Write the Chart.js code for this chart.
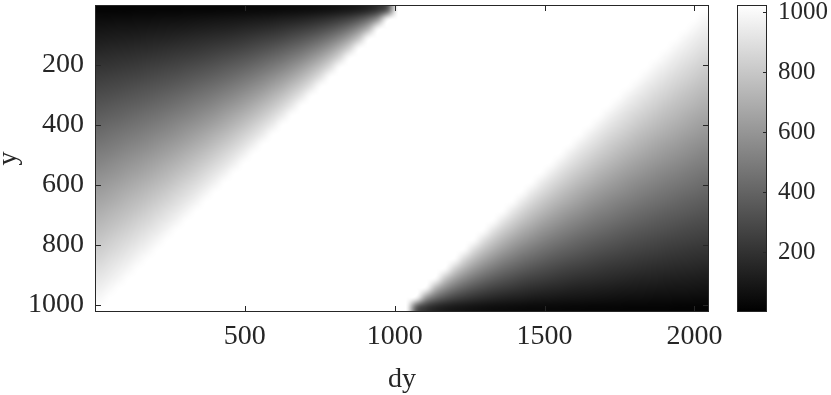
<!DOCTYPE html>
<html>
<head>
<meta charset="utf-8">
<script src="https://cdn.jsdelivr.net/npm/chart.js@4.4.1/dist/chart.umd.min.js"></script>
<style>
  html, body { margin: 0; padding: 0; background: #fff; }
  #wrap { position: relative; width: 831px; height: 395px; }
  #wrap canvas { position: absolute; left: 0; top: 0; }
</style>
</head>
<body>
<div id="wrap">
  <canvas id="map" width="831" height="395"></canvas>
  <canvas id="bar" width="831" height="395"></canvas>
</div>
<script>
// image extents (data units) and colour limits
const dyRange = [0.5, 2048.5];
const yRange = [0.5, 1024.5];
const cMin = 0;
const cMax = 1024;

const xTicks = [500, 1000, 1500, 2000];
const yTicks = [200, 400, 600, 800, 1000];
const cbTicks = [200, 400, 600, 800, 1000];

const W = 1024; // saturated (white)

// values read on a 64 x 32 grid (cell = 32 x 32), rows top to bottom.
// each row: left ramp, a run of 33 saturated cells, right ramp
const whiteRun = [
  W, W, W, W, W, W, W, W, W, W, W,
  W, W, W, W, W, W, W, W, W, W, W,
  W, W, W, W, W, W, W, W, W, W, W
];

const leftRamps = [
  [16,17,17,18,19,19,20,21,22,23,24,25,26,28,29,31,33,35,38,41,45,49,54,60,68,79,93,114,146,205,341],
  [49,50,52,54,56,58,60,63,65,68,71,75,79,83,88,93,99,106,114,123,134,146,162,181,205,236,279,341,439,614],
  [81,84,87,90,93,97,100,104,109,114,119,125,131,138,146,155,165,177,190,205,223,244,269,301,341,394,465,569,731],
  [114,118,121,126,130,135,141,146,153,159,167,175,184,194,205,217,231,247,265,287,312,341,377,422,478,551,652,796],
  [146,151,156,162,168,174,181,188,196,205,214,225,236,249,263,279,297,318,341,369,401,439,485,542,614,709,838],
  [179,185,191,198,205,213,221,230,240,250,262,275,289,304,322,341,363,388,417,451,490,536,593,663,751,866],
  [211,218,226,234,242,251,261,272,283,296,310,325,341,360,380,403,429,459,493,532,579,634,701,783,887],
  [244,252,260,269,279,290,301,313,327,341,357,375,394,415,439,465,495,530,569,614,668,731,808,904],
  [276,285,295,305,317,328,341,355,370,387,405,425,446,470,497,528,562,600,645,696,757,829,916],
  [309,319,330,341,354,367,381,397,414,432,452,475,499,526,556,590,628,671,721,778,846,926],
  [341,353,364,377,391,406,422,439,458,478,500,524,551,581,614,652,694,742,796,860,935],
  [374,386,399,413,428,444,462,481,501,523,548,574,604,637,673,714,760,812,872,942],
  [406,420,434,449,465,483,502,522,545,569,595,624,656,692,731,776,826,883,948],
  [439,453,469,485,503,522,542,564,588,614,643,674,709,747,790,838,892,953],
  [471,487,503,521,540,560,582,606,632,660,691,724,761,803,848,900,958],
  [504,520,538,557,577,599,622,648,675,705,738,774,814,858,907,962],
  [536,554,573,593,614,638,663,690,719,751,786,824,866,913,965],
  [569,588,607,629,652,676,703,731,763,796,833,874,919,969],
  [601,621,642,665,689,715,743,773,806,842,881,924,971],
  [634,655,677,701,726,754,783,815,850,887,929,974],
  [666,688,712,737,763,792,823,857,893,933,976],
  [699,722,746,772,801,831,863,899,937,979],
  [731,755,781,808,838,869,904,940,980],
  [764,789,816,844,875,908,944,982],
  [796,823,850,880,912,947,984],
  [829,856,885,916,950,985],
  [861,890,920,952,987],
  [894,923,955,988],
  [926,957,989],
  [959,990],
  [991],
  []
];

const rightRamps = [
  [],
  [991],
  [990,959],
  [989,957,926],
  [988,955,923,894],
  [987,952,920,890,861],
  [985,950,916,885,856,829],
  [984,947,912,880,850,823,796],
  [982,944,908,875,844,816,789,764],
  [980,940,904,869,838,808,781,755,731],
  [979,937,899,863,831,801,772,746,722,699],
  [976,933,893,857,823,792,763,737,712,688,666],
  [974,929,887,850,815,783,754,726,701,677,655,634],
  [971,924,881,842,806,773,743,715,689,665,642,621,601],
  [969,919,874,833,796,763,731,703,676,652,629,607,588,569],
  [965,913,866,824,786,751,719,690,663,638,614,593,573,554,536],
  [962,907,858,814,774,738,705,675,648,622,599,577,557,538,520,504],
  [958,900,848,803,761,724,691,660,632,606,582,560,540,521,503,487,471],
  [953,892,838,790,747,709,674,643,614,588,564,542,522,503,485,469,453,439],
  [948,883,826,776,731,692,656,624,595,569,545,522,502,483,465,449,434,420,406],
  [942,872,812,760,714,673,637,604,574,548,523,501,481,462,444,428,413,399,386,374],
  [935,860,796,742,694,652,614,581,551,524,500,478,458,439,422,406,391,377,364,353,341],
  [926,846,778,721,671,628,590,556,526,499,475,452,432,414,397,381,367,354,341,330,319,309],
  [916,829,757,696,645,600,562,528,497,470,446,425,405,387,370,355,341,328,317,305,295,285,276],
  [904,808,731,668,614,569,530,495,465,439,415,394,375,357,341,327,313,301,290,279,269,260,252,244],
  [887,783,701,634,579,532,493,459,429,403,380,360,341,325,310,296,283,272,261,251,242,234,226,218,211],
  [866,751,663,593,536,490,451,417,388,363,341,322,304,289,275,262,250,240,230,221,213,205,198,191,185,179],
  [838,709,614,542,485,439,401,369,341,318,297,279,263,249,236,225,214,205,196,188,181,174,168,162,156,151,146],
  [796,652,551,478,422,377,341,312,287,265,247,231,217,205,194,184,175,167,159,153,146,141,135,130,126,121,118,114],
  [731,569,465,394,341,301,269,244,223,205,190,177,165,155,146,138,131,125,119,114,109,104,100,97,93,90,87,84,81],
  [614,439,341,279,236,205,181,162,146,134,123,114,106,99,93,88,83,79,75,71,68,65,63,60,58,56,54,52,50,49],
  [341,205,146,114,93,79,68,60,54,49,45,41,38,35,33,31,29,28,26,25,24,23,22,21,20,19,19,18,17,17,16]
];

const heatRows = leftRamps.map((l, j) => [...l, ...whiteRun, ...rightRamps[j]]);

const ink = '#262626';
const serif = "'Liberation Serif', 'DejaVu Serif', serif";

function setTicks(list) {
  return function(scale) { scale.ticks = list.map(v => ({ value: v })); };
}

// fixed axis size, and no extra room for the end labels
function fixBox(w, h) {
  return function(s) {
    if (w != null) s.width = w;
    if (h != null) s.height = h;
    s.paddingTop = 0; s.paddingBottom = 0;
    s.paddingLeft = 0; s.paddingRight = 0;
  };
}

function gray(v) {
  const t = Math.min(1, Math.max(0, (v - cMin) / (cMax - cMin)));
  return Math.round(t * 255);
}

// heat map image, placed with the x / y scales
const heatLayer = {
  id: 'heatLayer',
  beforeDatasetsDraw(chart) {
    const { ctx, chartArea: a, scales: { x, y } } = chart;
    const rows = heatRows.length;
    const cols = Math.max(...heatRows.map(r => r.length));
    const off = document.createElement('canvas');
    off.width = cols;
    off.height = rows;
    const octx = off.getContext('2d');
    const pix = octx.createImageData(cols, rows);
    heatRows.forEach((row, j) => row.forEach((v, i) => {
      const k = (j * cols + i) * 4;
      const g = gray(v);
      pix.data[k] = g; pix.data[k + 1] = g; pix.data[k + 2] = g; pix.data[k + 3] = 255;
    }));
    octx.putImageData(pix, 0, 0);

    const x0 = x.getPixelForValue(dyRange[0]), x1 = x.getPixelForValue(dyRange[1]);
    const y0 = y.getPixelForValue(yRange[0]), y1 = y.getPixelForValue(yRange[1]);
    ctx.save();
    ctx.beginPath();
    ctx.rect(a.left, a.top, a.right - a.left, a.bottom - a.top);
    ctx.clip();
    ctx.imageSmoothingEnabled = true;
    ctx.imageSmoothingQuality = 'high';
    ctx.drawImage(off, x0, y0, x1 - x0, y1 - y0);
    ctx.restore();
  }
};

function drawFrame(ctx, a) {
  ctx.strokeStyle = ink;
  ctx.lineWidth = 1;
  ctx.strokeRect(Math.round(a.left) + 0.5, Math.round(a.top) + 0.5,
    Math.round(a.right - a.left) - 1, Math.round(a.bottom - a.top) - 1);
}

// matlab style box with inward ticks on all four sides
const boxTicks = {
  id: 'boxTicks',
  afterDraw(chart) {
    const { ctx, chartArea: a, scales: { x, y } } = chart;
    const len = 6;
    ctx.save();
    ctx.strokeStyle = ink;
    ctx.lineWidth = 1;
    ctx.beginPath();
    x.ticks.forEach(t => {
      const p = Math.round(x.getPixelForValue(t.value)) + 0.5;
      ctx.moveTo(p, a.bottom); ctx.lineTo(p, a.bottom - len);
      ctx.moveTo(p, a.top); ctx.lineTo(p, a.top + len);
    });
    y.ticks.forEach(t => {
      const p = Math.round(y.getPixelForValue(t.value)) + 0.5;
      ctx.moveTo(a.left, p); ctx.lineTo(a.left + len, p);
      ctx.moveTo(a.right, p); ctx.lineTo(a.right - len, p);
    });
    ctx.stroke();
    drawFrame(ctx, a);
    ctx.restore();
  }
};

const colorStrip = {
  id: 'colorStrip',
  beforeDatasetsDraw(chart) {
    const { ctx, chartArea: a, scales: { y } } = chart;
    const yLo = y.getPixelForValue(cMin), yHi = y.getPixelForValue(cMax);
    const grad = ctx.createLinearGradient(0, yLo, 0, yHi);
    grad.addColorStop(0, 'rgb(0,0,0)');
    grad.addColorStop(1, 'rgb(255,255,255)');
    ctx.save();
    ctx.fillStyle = grad;
    ctx.fillRect(a.left, a.top, a.right - a.left, a.bottom - a.top);
    ctx.restore();
  },
  afterDraw(chart) {
    const { ctx, chartArea: a, scales: { y } } = chart;
    ctx.save();
    ctx.strokeStyle = ink;
    ctx.lineWidth = 1;
    ctx.beginPath();
    y.ticks.forEach(t => {
      const p = Math.round(y.getPixelForValue(t.value)) + 0.5;
      ctx.moveTo(a.right, p); ctx.lineTo(a.right - 4, p);
    });
    ctx.stroke();
    drawFrame(ctx, a);
    ctx.restore();
  }
};

const plain = v => String(v);
const tickFont = { family: serif, size: 28, lineHeight: 1.2 };
const cbFont = { family: serif, size: 25, lineHeight: 1.2 };

new Chart(document.getElementById('map'), {
  type: 'scatter',
  data: { datasets: [{ data: [], pointRadius: 0 }] },
  options: {
    responsive: false,
    animation: false,
    events: [],
    layout: { autoPadding: false, padding: { left: 0, top: 5, right: 122, bottom: 0 } },
    plugins: { legend: { display: false }, tooltip: { enabled: false } },
    scales: {
      x: {
        type: 'linear',
        min: dyRange[0], max: dyRange[1],
        afterBuildTicks: setTicks(xTicks),
        afterFit: fixBox(null, 83),
        grid: { display: false, drawTicks: false },
        border: { display: false },
        ticks: { color: ink, font: tickFont, padding: 8, maxRotation: 0, callback: plain },
        title: { display: true, text: 'dy', color: ink, font: { family: serif, size: 28, lineHeight: 1 }, padding: { top: 0, bottom: 1.5 } }
      },
      y: {
        type: 'linear',
        reverse: true,
        min: yRange[0], max: yRange[1],
        afterBuildTicks: setTicks(yTicks),
        afterFit: fixBox(95, null),
        grid: { display: false, drawTicks: false },
        border: { display: false },
        ticks: { color: ink, font: tickFont, padding: 11, callback: plain },
        title: { display: true, text: 'y', color: ink, font: { family: serif, size: 28, lineHeight: 0.6 }, padding: { top: 0, bottom: 0 } }
      }
    }
  },
  plugins: [heatLayer, boxTicks]
});

new Chart(document.getElementById('bar'), {
  type: 'scatter',
  data: { datasets: [{ data: [], pointRadius: 0 }] },
  options: {
    responsive: false,
    animation: false,
    events: [],
    layout: { autoPadding: false, padding: { left: 737, top: 5, right: 0, bottom: 83 } },
    plugins: { legend: { display: false }, tooltip: { enabled: false } },
    scales: {
      x: { display: false },
      y: {
        type: 'linear',
        position: 'right',
        min: cMin, max: cMax,
        afterBuildTicks: setTicks(cbTicks),
        afterFit: fixBox(64, null),
        grid: { display: false, drawTicks: false },
        border: { display: false },
        ticks: { color: ink, font: cbFont, padding: 11, callback: plain }
      }
    }
  },
  plugins: [colorStrip]
});
</script>
</body>
</html>
